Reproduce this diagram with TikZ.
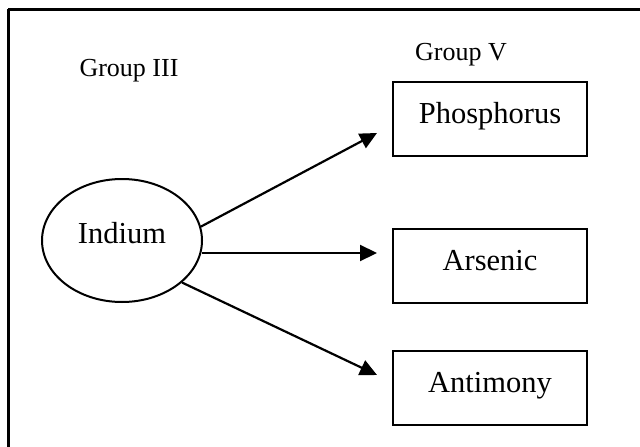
\documentclass[tikz,border=0pt]{standalone}
\usepackage{fontspec}
\setmainfont{Liberation Serif}
\usetikzlibrary{shapes.geometric,arrows.meta}
\begin{document}
\begin{tikzpicture}[x=1pt,y=-1pt,
  frameline/.style={line width=3pt},
  grouplabel/.style={font=\fontsize{26}{30}\selectfont, anchor=base, inner sep=0pt},
  element/.style={draw, line width=2pt, rectangle, minimum width=194pt, minimum height=74pt,
    inner sep=0pt, text height=38pt, text depth=30pt, font=\fontsize{30.5}{34}\selectfont},
  source/.style={draw, line width=2pt, ellipse, minimum width=160pt, minimum height=123pt,
    inner sep=0pt, text height=20pt, text depth=15pt, font=\fontsize{30.5}{34}\selectfont},
  link/.style={line width=2.2pt, -{Triangle[length=17pt,width=16pt]}}]
  \useasboundingbox (0,0) rectangle (640,447);
  % outer frame, running past the right and bottom edges
  \draw[frameline] (8,9) -- (660,9);
  \draw[frameline] (8,9) -- (8,460);

  % column headings
  \node[grouplabel] (g3) at (129,76) {Group III};
  \node[grouplabel] (g5) at (461,60) {Group V};

  % Group III element
  \node[source] (in) at (122,240.5) {Indium};

  % Group V elements
  \node[element] (p)  at (490,119) {Phosphorus};
  \node[element] (as) at (490,266) {Arsenic};
  \node[element] (sb) at (490,388) {Antimony};

  % arrow tips stop short of the boxes
  \coordinate (tp)  at (377,133);
  \coordinate (tas) at (377,253);
  \coordinate (tsb) at (377,375);

  \draw[link] (in.10)  -- (tp);
  \draw[link] (in.east |- tas) ++(-1,0) -- (tas);
  \draw[link] (in.-35) -- (tsb);
\end{tikzpicture}
\end{document}
